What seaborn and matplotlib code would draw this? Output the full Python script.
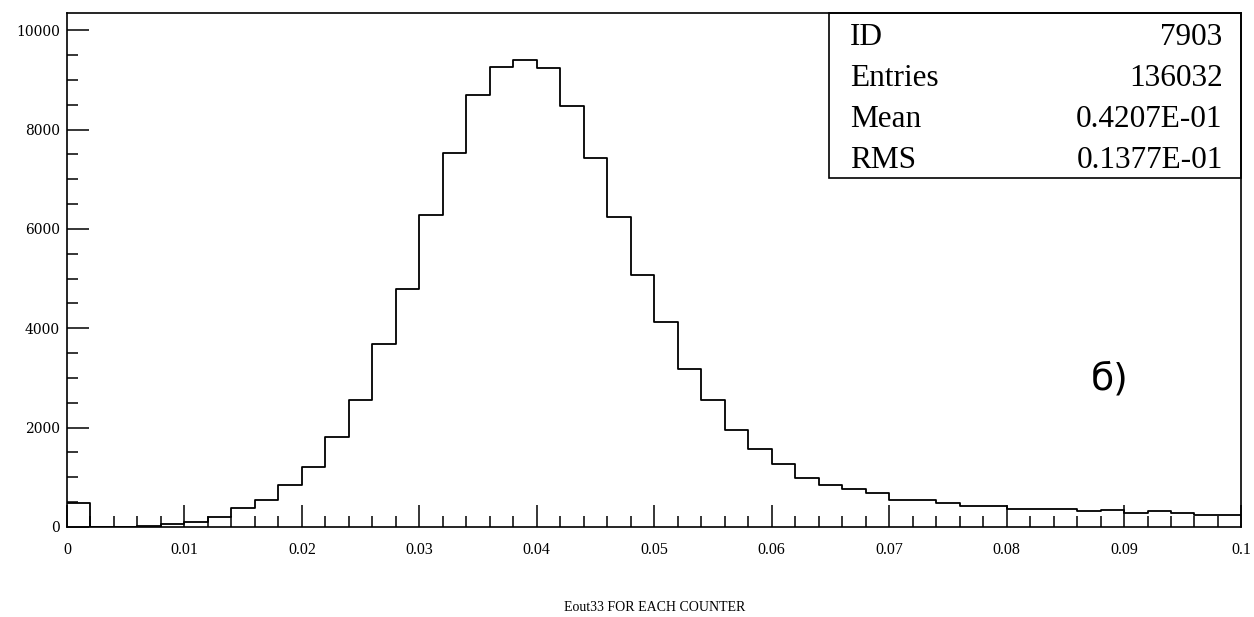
import numpy as np
import pandas as pd
import matplotlib
matplotlib.use("Agg")
import matplotlib.pyplot as plt
import seaborn as sns
from matplotlib.ticker import MultipleLocator

# histogram contents, 50 bins of 0.002 from 0 to 0.1
bin_lo = 0.0
bin_hi = 0.1
bin_w = 0.002
counts = [490, 0, 0, 15, 50, 110, 200, 378, 545, 843,
          1214, 1802, 2565, 3692, 4797, 6285, 7522, 8692, 9259, 9411,
          9251, 8474, 7435, 6243, 5073, 4135, 3183, 2565, 1962, 1562,
          1262, 990, 852, 772, 691, 550, 537, 477, 430, 416,
          369, 369, 369, 315, 342, 289, 315, 275, 242, 242]

stat_names = ["ID", "Entries", "Mean", "RMS"]
stat_values = ["7903", "136032", "0.4207E-01", "0.1377E-01"]

x_ticks = [0, 0.01, 0.02, 0.03, 0.04, 0.05, 0.06, 0.07, 0.08, 0.09, 0.1]
x_labels = ["0", "0.01", "0.02", "0.03", "0.04", "0.05", "0.06", "0.07", "0.08", "0.09", "0.1"]
y_ticks = [0, 2000, 4000, 6000, 8000, 10000]
y_labels = ["0", "2000", "4000", "6000", "8000", "10000"]

nb = len(counts)
centers = bin_lo + bin_w * (np.arange(nb) + 0.5)
df = pd.DataFrame({"x": centers, "n": counts})

sns.set_style("ticks")
plt.rcParams['font.family'] = ['Liberation Serif', 'DejaVu Serif']
plt.rcParams['text.color'] = 'black'
plt.rcParams['axes.labelcolor'] = 'black'
plt.rcParams['axes.edgecolor'] = 'black'
plt.rcParams['xtick.color'] = 'black'
plt.rcParams['ytick.color'] = 'black'

fig = plt.figure(figsize=(12.54, 6.17), dpi=100)
ax = fig.add_axes([0.0534, 0.1459, 0.9366, 0.8331])

sns.histplot(data=df, x="x", weights="n", binwidth=bin_w, binrange=(bin_lo, bin_hi),
             element="step", fill=False, color="black", linewidth=1.3, ax=ax)

ax.set_xlim(0, 0.1)
ax.set_ylim(0, 10350)
ax.set_xticks(x_ticks)
ax.set_xticklabels(x_labels, fontsize=11.5)
ax.set_yticks(y_ticks)
ax.set_yticklabels(y_labels, fontsize=10, family=["DejaVu Serif"])
ax.xaxis.set_minor_locator(MultipleLocator(0.002))
ax.yaxis.set_minor_locator(MultipleLocator(500))
ax.tick_params(which="major", direction="in", length=16, width=1.1)
ax.tick_params(which="minor", direction="in", length=8, width=1.1)
ax.tick_params(axis="x", which="major", pad=11)
ax.tick_params(axis="y", which="major", pad=5)
for s in ax.spines.values():
    s.set_linewidth(1.2)
    s.set_visible(True)
ax.set_ylabel("")
ax.set_xlabel("Eout33 FOR EACH COUNTER", fontsize=10, labelpad=31)

# stats box
box = plt.Rectangle((0.649, 0.679), 0.351, 0.321, transform=ax.transAxes,
                    fill=False, edgecolor="black", linewidth=1.2, clip_on=False)
ax.add_patch(box)
row_y = [0.952, 0.873, 0.792, 0.712]
for name, val, yy in zip(stat_names, stat_values, row_y):
    ax.text(0.667, yy, name, transform=ax.transAxes, fontsize=22.5,
            ha="left", va="center")
    ax.text(0.984, yy, val, transform=ax.transAxes, fontsize=22.5,
            ha="right", va="center")

ax.text(0.888, 0.286, "б)", transform=ax.transAxes, fontsize=27,
        ha="center", va="center", family=["DejaVu Sans"])

fig.savefig("out.png", dpi=100)
